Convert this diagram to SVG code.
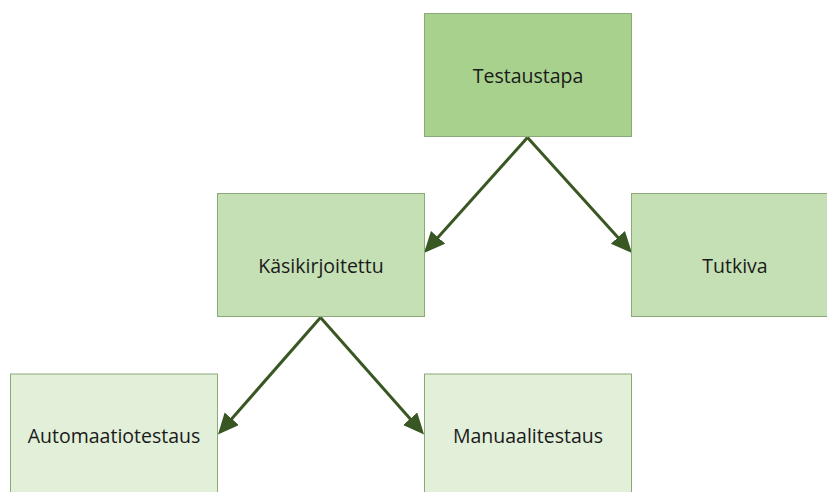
<svg xmlns="http://www.w3.org/2000/svg" width="827" height="492" viewBox="0 0 827 492">
  <style>
    .box { stroke: #8aa878; stroke-width: 1; }
    .l1 { fill: #a9d18e; }
    .l2 { fill: #c5e0b4; }
    .l3 { fill: #e2efd9; }
    .label { font-family: "Open Sans", "Noto Sans", "Liberation Sans", sans-serif; font-size: 19.5px; fill: #1a1a1a; text-anchor: middle; }
    .conn { stroke: #385723; stroke-width: 3; fill: none; marker-end: url(#arrow); }
  </style>
  <defs>
    <marker id="arrow" markerUnits="userSpaceOnUse" markerWidth="22" markerHeight="20" refX="17" refY="9.5" orient="auto">
      <path d="M0,0 L21,9.5 L0,19 Z" fill="#385723"/>
    </marker>
  </defs>
  <rect width="827" height="492" fill="#ffffff"/>
  <g id="connectors">
    <line class="conn" x1="527.5" y1="137.5" x2="426.7" y2="250"/>
    <line class="conn" x1="527.5" y1="137.5" x2="629.3" y2="250"/>
    <line class="conn" x1="320.5" y1="317.5" x2="220.6" y2="431.5"/>
    <line class="conn" x1="320.5" y1="317.5" x2="421.4" y2="431.5"/>
  </g>
  <g id="testaustapa">
    <rect class="box l1" x="424.5" y="13.5" width="207" height="123"/>
    <text class="label" x="528" y="83">Testaustapa</text>
  </g>
  <g id="kasikirjoitettu">
    <rect class="box l2" x="217.5" y="193.5" width="207" height="123"/>
    <text class="label" x="321" y="272.5">Käsikirjoitettu</text>
  </g>
  <g id="tutkiva">
    <rect class="box l2" x="631.5" y="193.5" width="207" height="123"/>
    <text class="label" x="735" y="272.5">Tutkiva</text>
  </g>
  <g id="automaatiotestaus">
    <rect class="box l3" x="10.5" y="374" width="207" height="123"/>
    <text class="label" x="114" y="443.3">Automaatiotestaus</text>
  </g>
  <g id="manuaalitestaus">
    <rect class="box l3" x="424.5" y="374" width="207" height="123"/>
    <text class="label" x="528" y="443.3">Manuaalitestaus</text>
  </g>
</svg>
